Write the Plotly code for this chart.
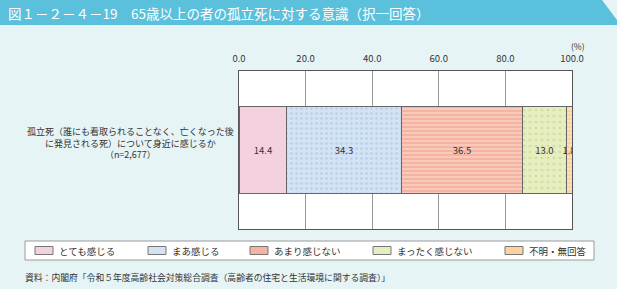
import plotly.graph_objects as go

# ---- data ----
categories = ["孤立死（誰にも看取られることなく、亡くなった後<br>に発見される死）について身近に感じるか<br>（n=2,677）"]
series_names = ["とても感じる", "まあ感じる", "あまり感じない", "まったく感じない", "不明・無回答"]
series_values = [14.4, 34.3, 36.5, 13.0, 1.8]
tick_values = [0, 20, 40, 60, 80, 100]
tick_labels = ["0.0", "20.0", "40.0", "60.0", "80.0", "100.0"]

# ---- styles ----
W, H = 617, 289
L, R, T, B = 239, 572, 71, 229
FONT = "Noto Sans CJK JP, Noto Sans, sans-serif"
BG = "#E7F4F5"
styles = [
    dict(color="#F4D1DF", fg="#F4D1DF", shape="", size=6, sol=0.3),
    dict(color="#D3E3F4", fg="#B6CEEC", shape=".", size=5, sol=0.2),
    dict(color="#F5B3A2", fg="#FCD8CE", shape="-", size=4, sol=0.3),
    dict(color="#E6EEC1", fg="#D0DE98", shape=".", size=6, sol=0.16),
    dict(color="#FCD2A0", fg="#FEE8CB", shape="-", size=4, sol=0.3),
]


def px(x):
    return (x - L) / (R - L)


def py(y):
    return (B - y) / (B - T)


fig = go.Figure()
for name, val, st in zip(series_names, series_values, styles):
    pattern = dict(shape=st["shape"], fgcolor=st["fg"], bgcolor=st["color"],
                   size=st["size"], solidity=st["sol"], fillmode="replace")
    fig.add_trace(go.Bar(
        x=[val], y=[0], orientation="h", name=name,
        marker=dict(color=st["color"], line=dict(color="#666666", width=1),
                    pattern=pattern),
        text=[f"{val:.1f}"], textposition="inside", insidetextanchor="middle",
        textangle=0, constraintext="none",
        textfont=dict(family=FONT, size=9.5, color="#333333"),
        showlegend=False, hoverinfo="skip",
    ))

shapes = []
# header bar
hdr = f"M {px(0)},{py(0)} L {px(602)},{py(0)} L {px(617)},{py(20)} L {px(617)},{py(25)} L {px(0)},{py(25)} Z"
shapes.append(dict(type="path", xref="paper", yref="paper", path=hdr,
                   fillcolor="#5BC0DC", line=dict(width=0), layer="below"))
# legend box
shapes.append(dict(type="rect", xref="paper", yref="paper",
                   x0=px(25), x1=px(594), y0=py(241), y1=py(260),
                   fillcolor="white", line=dict(color="#9A9A9A", width=1)))

annotations = []
annotations.append(dict(text="図１－２－４－19　65歳以上の者の孤立死に対する意識（択一回答）",
                        x=px(6), y=py(12.5), xref="paper", yref="paper",
                        xanchor="left", yanchor="middle", showarrow=False,
                        font=dict(family=FONT, size=13.5, color="white")))
annotations.append(dict(text=categories[0], x=px(130), y=py(143), xref="paper", yref="paper",
                        xanchor="center", yanchor="middle", align="center", showarrow=False,
                        font=dict(family=FONT, size=9, color="#333333")))
annotations.append(dict(text="(%)", x=px(578), y=py(46), xref="paper", yref="paper",
                        xanchor="center", yanchor="middle", showarrow=False,
                        font=dict(family=FONT, size=8.5, color="#333333")))
annotations.append(dict(text="資料：内閣府「令和５年度高齢社会対策総合調査（高齢者の住宅と生活環境に関する調査）」",
                        x=px(23), y=py(277), xref="paper", yref="paper",
                        xanchor="left", yanchor="middle", showarrow=False,
                        font=dict(family=FONT, size=8.8, color="#333333")))

leg_sw = [35, 148, 250, 373, 505]
for name, st, sx in zip(series_names, styles, leg_sw):
    shapes.append(dict(type="rect", xref="paper", yref="paper",
                       x0=px(sx), x1=px(sx + 18), y0=py(246.5), y1=py(254.5),
                       fillcolor=st["color"], line=dict(color="#777777", width=1)))
    annotations.append(dict(text=name, x=px(sx + 22), y=py(250.5), xref="paper", yref="paper",
                            xanchor="left", yanchor="middle", showarrow=False,
                            font=dict(family=FONT, size=9.5, color="#333333")))

fig.update_layout(
    width=W, height=H,
    margin=dict(l=L, r=W - R, t=T, b=H - B, pad=0),
    paper_bgcolor=BG, plot_bgcolor="white",
    barmode="stack", bargap=0.45,
    shapes=shapes, annotations=annotations,
    xaxis=dict(side="top", range=[0, 100], tickvals=tick_values, ticktext=tick_labels,
               showgrid=True, gridcolor="#999999", gridwidth=1, zeroline=False,
               showline=True, mirror=True, linecolor="#555555", linewidth=1,
               ticks="", ticklabelstandoff=4,
               tickfont=dict(family=FONT, size=9.5, color="#333333")),
    yaxis=dict(range=[-0.5, 0.5], showticklabels=False, showgrid=False, zeroline=False,
               showline=True, mirror=True, linecolor="#555555", linewidth=1, ticks=""),
    showlegend=False,
)

fig.write_html("out.html")
